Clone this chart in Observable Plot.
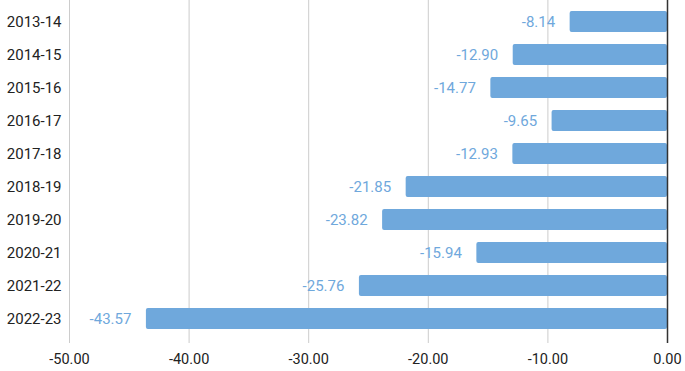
<!DOCTYPE html>
<html>
<head>
<meta charset="utf-8">
<script src="https://cdn.jsdelivr.net/npm/d3@7"></script>
<script src="https://cdn.jsdelivr.net/npm/@observablehq/plot@0.6"></script>
<style>
  html, body { margin: 0; padding: 0; background: #fff; }
  svg { font-family: Roboto, "Noto Sans", sans-serif; }
</style>
</head>
<body>
<div id="chart"></div>
<script>
const years = ["2013-14","2014-15","2015-16","2016-17","2017-18","2018-19","2019-20","2020-21","2021-22","2022-23"];
const values = [-8.14, -12.90, -14.77, -9.65, -12.93, -21.85, -23.82, -15.94, -25.76, -43.57];
const xTicks = [-50, -40, -30, -20, -10, 0];

const data = years.map((y, i) => ({year: y, value: values[i]}));
const fmt = d => d.toFixed(2);

const chart = Plot.plot({
  width: 685,
  height: 371,
  marginLeft: 69,
  marginRight: 18,
  marginTop: 0,
  marginBottom: 32,
  style: {fontSize: "15px", fontFamily: "Roboto, sans-serif", color: "#222"},
  x: {domain: [-50, 0], ticks: xTicks, tickFormat: fmt, label: null},
  y: {domain: years, label: null, paddingInner: 0.373, paddingOuter: 0.25},
  marks: [
    Plot.gridX(xTicks.filter(t => t !== 0), {stroke: "#ccc", strokeOpacity: 1}),
    Plot.axisX({ticks: xTicks, tickFormat: fmt, tickSize: 4, stroke: "#ccc", tickPadding: 10, fontSize: 14.5, fill: "#222"}),
    Plot.axisY({tickSize: 0, tickPadding: 8, fontSize: 15, fill: "#222"}),
    Plot.barX(data, {x: "value", y: "year", fill: "#6fa8dc", rx: 2}),
    Plot.ruleX([0], {stroke: "#333", strokeWidth: 1.5, insetBottom: -4}),
    Plot.text(data, {x: "value", y: "year", text: d => fmt(d.value), textAnchor: "end", dx: -15, fill: "#6fa8dc", fontSize: 15})
  ]
});
document.getElementById("chart").appendChild(chart);
</script>
</body>
</html>
